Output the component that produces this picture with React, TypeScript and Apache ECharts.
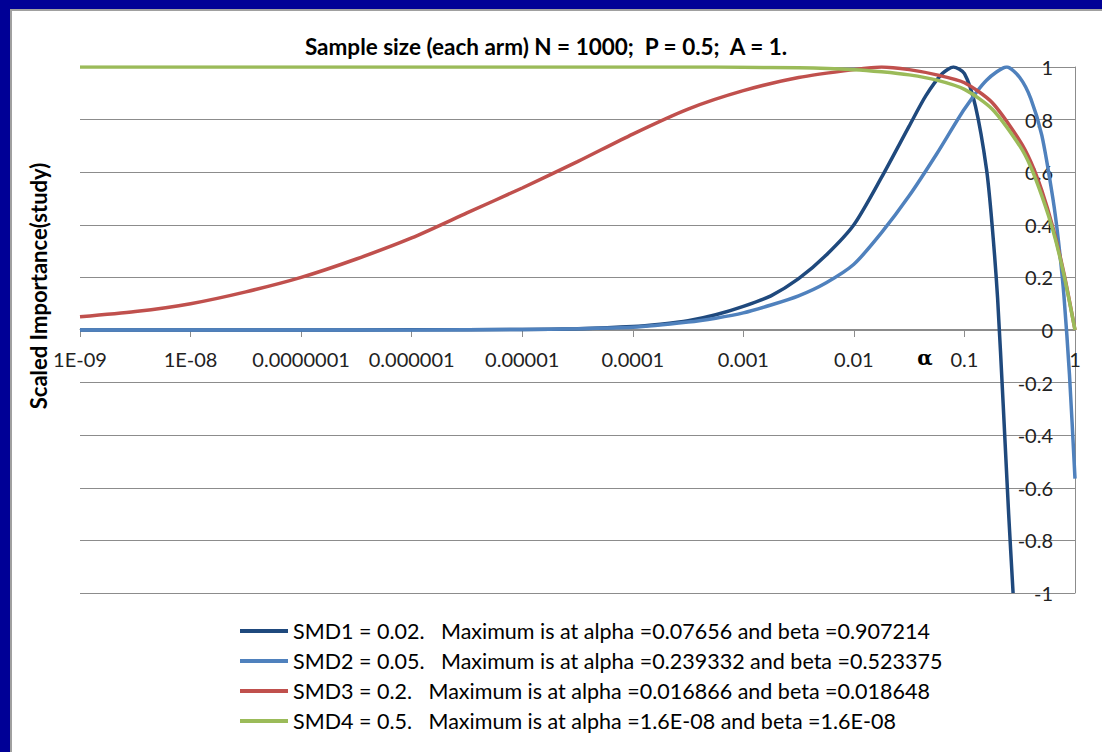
import React, { useEffect, useRef } from "react";
import * as echarts from "echarts";

const TITLE = "Sample size (each arm) N = 1000;  P = 0.5;  A = 1.";
const Y_TITLE = "Scaled Importance(study)";
const X_TITLE = "α";
const X_TICK_LABELS = ["1E-09", "1E-08", "0.0000001", "0.000001", "0.00001", "0.0001", "0.001", "0.01", "0.1", "1"];

const SERIES_NAMES = [
  "SMD1 = 0.02.   Maximum is at alpha =0.07656 and beta =0.907214",
  "SMD2 = 0.05.   Maximum is at alpha =0.239332 and beta =0.523375",
  "SMD3 = 0.2.   Maximum is at alpha =0.016866 and beta =0.018648",
  "SMD4 = 0.5.   Maximum is at alpha =1.6E-08 and beta =1.6E-08",
];
const COLORS = ["#1F497D", "#4F81BD", "#C0504D", "#9BBB59"];

// log10(alpha) sample points and values
const smd1Exp = [-9, -8, -7, -6, -5, -4.5, -4, -3.75, -3.5, -3.25, -3, -2.75, -2.5, -2.25, -2, -1.75, -1.5, -1.35, -1.2, -1.1, -1.0, -0.9, -0.8, -0.75, -0.7, -0.65, -0.6, -0.56];
const smd1Val = [0, 0, 0, 0.001, 0.002, 0.005, 0.013, 0.022, 0.035, 0.058, 0.09, 0.13, 0.195, 0.285, 0.4, 0.58, 0.775, 0.89, 0.975, 1.0, 0.975, 0.85, 0.61, 0.4, 0.12, -0.28, -0.7, -1];

const smd2Exp = [-9, -8, -7, -6, -5, -4.5, -4, -3.5, -3.25, -3, -2.75, -2.5, -2.25, -2, -1.75, -1.5, -1.25, -1, -0.8, -0.616, -0.5, -0.4, -0.3, -0.2, -0.15, -0.1, -0.05, 0];
const smd2Val = [0, 0, 0, 0, 0.002, 0.005, 0.01, 0.03, 0.045, 0.065, 0.095, 0.13, 0.18, 0.25, 0.37, 0.51, 0.67, 0.84, 0.95, 1.0, 0.96, 0.88, 0.74, 0.5, 0.34, 0.13, -0.17, -0.565];

const smd3Exp = [-9, -8.5, -8, -7.5, -7, -6.5, -6, -5.5, -5, -4.5, -4, -3.5, -3, -2.5, -2, -1.75, -1.5, -1.25, -1, -0.75, -0.5, -0.4, -0.3, -0.2, -0.1, 0];
const smd3Val = [0.05, 0.07, 0.1, 0.145, 0.2, 0.27, 0.35, 0.445, 0.54, 0.64, 0.745, 0.84, 0.91, 0.96, 0.99, 1.0, 0.99, 0.97, 0.94, 0.865, 0.72, 0.64, 0.53, 0.39, 0.215, 0];

const smd4Exp = [-9, -8, -7, -6, -5, -4, -3.5, -3, -2.5, -2, -1.75, -1.5, -1.25, -1, -0.75, -0.5, -0.4, -0.3, -0.2, -0.1, 0];
const smd4Val = [1, 1, 1, 1, 1, 1, 1, 0.999, 0.997, 0.99, 0.982, 0.97, 0.95, 0.915, 0.84, 0.7, 0.62, 0.51, 0.38, 0.21, 0];

const EXPS = [smd1Exp, smd2Exp, smd3Exp, smd4Exp];
const VALS = [smd1Val, smd2Val, smd3Val, smd4Val];

const FONT = "Lato, 'Open Sans', sans-serif";

export default function App() {
  const ref = useRef<HTMLDivElement>(null);
  useEffect(() => {
    if (!ref.current) return;
    const chart = echarts.init(ref.current, undefined, { renderer: "svg" });
    const series = SERIES_NAMES.map((name, s) => ({
      name,
      type: "line",
      xAxisIndex: 0,
      yAxisIndex: 0,
      data: EXPS[s].map((e, i) => [Math.pow(10, e), VALS[s][i]]),
      showSymbol: false,
      smooth: 0.25,
      lineStyle: { color: COLORS[s], width: 3.5 },
      itemStyle: { color: COLORS[s] },
      clip: true,
    }));
    chart.setOption({
      animation: false,
      backgroundColor: "#ffffff",
      textStyle: { fontFamily: FONT },
      title: {
        text: TITLE,
        left: 541,
        top: 30,
        textAlign: "center",
        textStyle: { fontFamily: FONT, fontSize: 22.5, fontWeight: "bold", color: "#000" },
      },
      grid: [
        { left: 80, right: 27, top: 67, bottom: 159 },
        { left: 80, right: 27, top: 67, height: 262 },
      ],
      xAxis: [
        { type: "log", logBase: 10, min: 1e-9, max: 1, gridIndex: 0, show: false },
        {
          type: "log",
          logBase: 10,
          min: 1e-9,
          max: 1,
          gridIndex: 1,
          position: "bottom",
          axisLine: { onZero: false, lineStyle: { color: "#8c8c8c", width: 1 } },
          axisTick: { show: true, length: 8, lineStyle: { color: "#8c8c8c" } },
          splitLine: { show: false },
          minorTick: { show: false },
          axisLabel: {
            margin: 20,
            fontSize: 20,
            color: "#222",
            fontFamily: FONT,
            showMinLabel: true,
            showMaxLabel: true,
            formatter: (v: number) => X_TICK_LABELS[Math.round(Math.log10(v)) + 9] ?? "",
          },
        },
      ],
      yAxis: [
        {
          type: "value",
          gridIndex: 0,
          position: "right",
          min: -1,
          max: 1,
          interval: 0.2,
          axisLine: { show: true, onZero: false, lineStyle: { color: "#8c8c8c", width: 1 } },
          axisTick: { show: false },
          splitLine: { show: true, lineStyle: { color: "#8c8c8c", width: 1 } },
          axisLabel: {
            inside: true,
            margin: 22,
            fontSize: 20,
            color: "#222",
            fontFamily: FONT,
            formatter: (v: number) => String(Math.round(v * 10) / 10),
          },
        },
        { type: "value", gridIndex: 1, min: 0, max: 1, show: false },
      ],
      legend: {
        orient: "vertical",
        left: 240,
        top: 620,
        padding: 0,
        itemGap: 8,
        itemWidth: 48,
        itemHeight: 4,
        icon: "rect",
        data: SERIES_NAMES,
        textStyle: { fontFamily: FONT, fontSize: 21.5, color: "#000", lineHeight: 22 },
      },
      graphic: [
        { type: "rect", shape: { x: 0, y: 0, width: 1102, height: 9 }, style: { fill: "#000096" }, z: 100 },
        { type: "rect", shape: { x: 0, y: 0, width: 10, height: 752 }, style: { fill: "#000096" }, z: 100 },
        { type: "rect", shape: { x: 10, y: 9, width: 1092, height: 2 }, style: { fill: "#a0a0a0" }, z: 100 },
        { type: "rect", shape: { x: 10, y: 9, width: 2, height: 743 }, style: { fill: "#a0a0a0" }, z: 100 },
        {
          type: "text",
          x: 38,
          y: 286,
          rotation: Math.PI / 2,
          style: {
            text: Y_TITLE,
            fontFamily: FONT,
            fontSize: 22,
            fontWeight: "bold",
            fill: "#000",
            align: "center",
            verticalAlign: "middle",
          },
        },
        {
          type: "text",
          x: 925,
          y: 358,
          style: {
            text: X_TITLE,
            fontFamily: "'DejaVu Serif', serif",
            fontSize: 20,
            fontWeight: "bold",
            fill: "#000",
            align: "center",
            verticalAlign: "middle",
          },
        },
      ],
      series,
    });
    return () => chart.dispose();
  }, []);
  return <div ref={ref} style={{ position: "absolute", left: 0, top: 0, width: 1102, height: 752 }} />;
}
